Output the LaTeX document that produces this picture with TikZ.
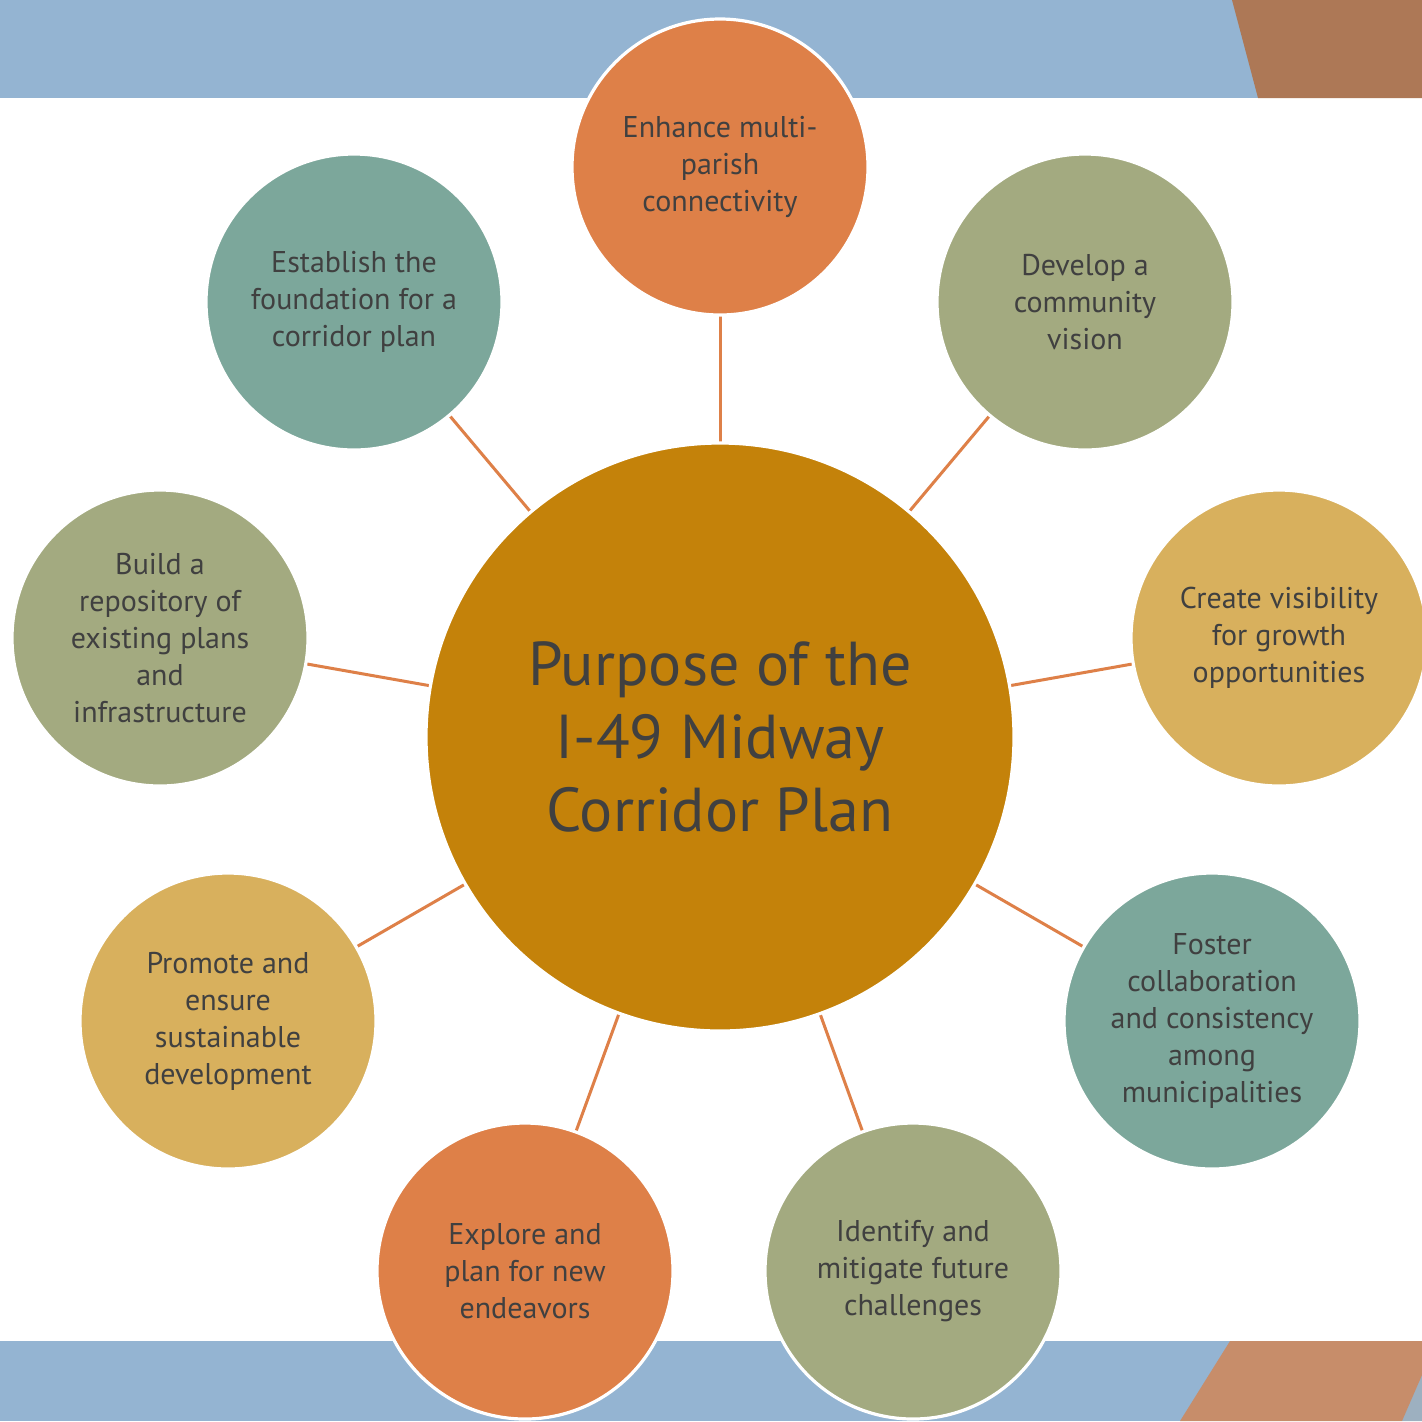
\documentclass[tikz,border=0pt]{standalone}
\usepackage{fontspec}
\setmainfont{PT Sans}
\definecolor{bandblue}{HTML}{94B4D2}
\definecolor{browntop}{HTML}{AD7856}
\definecolor{brownbot}{HTML}{C78D6A}
\definecolor{greyblue}{HTML}{9DB0C0}
\definecolor{corange}{HTML}{DE8048}
\definecolor{colive}{HTML}{A3AA80}
\definecolor{cyellow}{HTML}{D8B05D}
\definecolor{cteal}{HTML}{7CA79B}
\definecolor{ccenter}{HTML}{C4820A}
\definecolor{ctext}{HTML}{404040}
\begin{document}
\begin{tikzpicture}[x=0.5pt,y=-0.5pt,
  small/.style={circle,draw=white,line width=1.6pt,minimum size=148pt,inner sep=0pt,
    align=center,text=ctext,font=\fontsize{15}{18.5}\selectfont},
  big/.style={circle,draw=white,line width=1.6pt,minimum size=294pt,inner sep=0pt,
    align=center,text=ctext,font=\fontsize{31}{36.5}\selectfont,fill=ccenter},
  spoke/.style={draw=corange,line width=1.5pt}]
\useasboundingbox (0,0) rectangle (1422,1421);
\fill[white] (0,0) rectangle (1422,1421);
% bands
\fill[bandblue] (0,0) rectangle (1422,98);
\fill[browntop] (1232,0) -- (1422,0) -- (1422,98) -- (1258,98) -- cycle;
\fill[bandblue] (0,1341) rectangle (1422,1421);
\fill[greyblue] (1422,1375) -- (1422,1421) -- (1402,1421) -- cycle;
\fill[brownbot] (1230,1341) -- (1422,1341) -- (1422,1375) -- (1402,1421) -- (1180,1421) -- cycle;
% coordinates for centres
\coordinate (pc) at (720,737);
\coordinate (p1) at (720,167);
\coordinate (p2) at (1085,302);
\coordinate (p3) at (1279,638);
\coordinate (p4) at (1212,1021);
\coordinate (p5) at (913,1271);
\coordinate (p6) at (525,1271);
\coordinate (p7) at (228,1021);
\coordinate (p8) at (160,638);
\coordinate (p9) at (354,302);
% spokes
\foreach \i in {1,...,9} \draw[spoke] (pc) -- (p\i);
% circles
\node[big] (c) at (pc) {Purpose of the\\I-49 Midway\\Corridor Plan};
\node[small,fill=corange] (n1) at (p1) {Enhance multi-\\parish\\connectivity};
\node[small,fill=colive] (n2) at (p2) {Develop a\\community\\vision};
\node[small,fill=cyellow] (n3) at (p3) {Create visibility\\for growth\\opportunities};
\node[small,fill=cteal] (n4) at (p4) {Foster\\collaboration\\and consistency\\among\\municipalities};
\node[small,fill=colive] (n5) at (p5) {Identify and\\mitigate future\\challenges};
\node[small,fill=corange] (n6) at (p6) {Explore and\\plan for new\\endeavors};
\node[small,fill=cyellow] (n7) at (p7) {Promote and\\ensure\\sustainable\\development};
\node[small,fill=colive] (n8) at (p8) {Build a\\repository of\\existing plans\\and\\infrastructure};
\node[small,fill=cteal] (n9) at (p9) {Establish the\\foundation for a\\corridor plan};
\end{tikzpicture}
\end{document}
